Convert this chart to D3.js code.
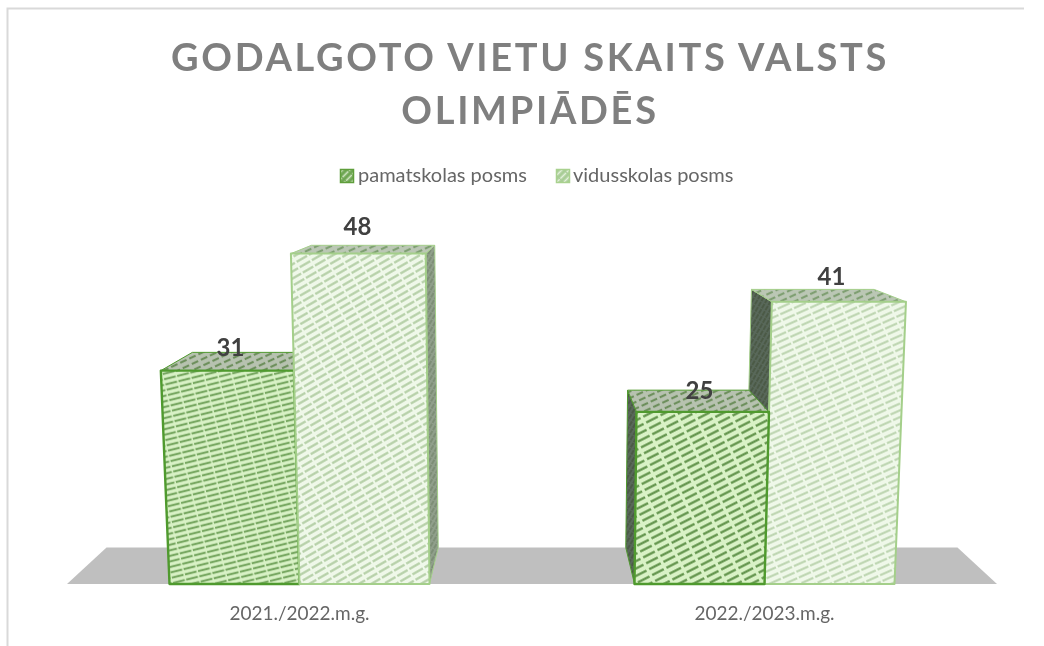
<!DOCTYPE html>
<html><head><meta charset="utf-8">
<script src="https://cdn.jsdelivr.net/npm/d3@7"></script>
<style>html,body{margin:0;padding:0;background:#fff}svg{display:block}text{font-family:Lato,"Open Sans",sans-serif}</style>
</head><body><svg id="c" width="1044" height="646"></svg>
<script>
const titleLines = ["GODALGOTO VIETU SKAITS VALSTS", "OLIMPIĀDĒS"];
const categories = ["2021./2022.m.g.", "2022./2023.m.g."];
const seriesNames = ["pamatskolas posms", "vidusskolas posms"];
const pamatskolas = [31, 25];
const vidusskolas = [48, 41];

const W = 1044, H = 646;
const svg = d3.select("#c");
const defs = svg.append("defs");
defs.append("filter").attr("id", "soft").attr("x", "-5%").attr("y", "-5%").attr("width", "110%").attr("height", "110%")
  .append("feGaussianBlur").attr("stdDeviation", 0.7);
defs.append("filter").attr("id", "softText").attr("x", "-5%").attr("y", "-5%").attr("width", "110%").attr("height", "110%")
  .append("feGaussianBlur").attr("stdDeviation", 0.35);

const x0 = d3.scaleBand().domain(categories).range([67, 997]);
const x1 = d3.scaleBand().domain(seriesNames)
  .range([x0.bandwidth()/2 - 130, x0.bandwidth()/2 + 130]);
const y = d3.scaleLinear().domain([0, 60]).range([584, 171]);

// perspective: vertical edges lean towards the centre, depth runs to a vanishing point
const vp = {x: 532, y: 156}, depthRatio = 0.915, lean = 0.000112;
function project(x, v, d) {
  const py = y(v);
  const px = vp.x + (x - vp.x) * (1 + lean * (y(0) - py));
  return d ? [vp.x + (px - vp.x) * depthRatio, vp.y + (py - vp.y) * depthRatio] : [px, py];
}

function pattern(id, bg, fg, angle, period, sw, dash) {
  const p = defs.append("pattern").attr("id", id).attr("patternUnits", "userSpaceOnUse")
    .attr("width", dash[0] + dash[1]).attr("height", period)
    .attr("patternTransform", `rotate(${angle})`);
  p.append("rect").attr("width", dash[0] + dash[1]).attr("height", period).attr("fill", bg);
  p.append("line").attr("x1", 0).attr("x2", dash[0] + dash[1]).attr("y1", period/2).attr("y2", period/2)
    .attr("stroke", fg).attr("stroke-width", sw).attr("stroke-dasharray", dash.join(" "));
}
pattern("f0a", "#d9f2c6", "#78a862", -14, 5.4, 2.2, [12, 1.5]);
pattern("f0b", "#d9f2c6", "#5c8f46", -27, 6.6, 2.2, [13, 3]);
pattern("f1a", "#eff8e9", "#b4cfa6", -30, 6.2, 2.2, [12, 2]);
pattern("f1b", "#eff8e9", "#bad3ad", -24, 6.2, 2.0, [13, 2]);
pattern("t0", "#b7c2b0", "#6d8f5c", -25, 6, 2.2, [7, 3]);
pattern("t1", "#bbc7b5", "#7f9f72", -25, 6, 2.2, [7, 3]);
pattern("sideDark", "#59685a", "#47553f", -60, 4, 1.5, [5, 1]);
pattern("sideLight", "#909f8b", "#76886f", -60, 4, 1.5, [5, 1]);
pattern("lg0", "#6ea653", "#d4e8c6", -45, 5, 1.6, [8, 1]);
pattern("lg1", "#a8cd96", "#e4f0dc", -45, 5, 1.6, [8, 1]);

// outer frame
svg.append("path").attr("d", `M7.5 ${H}V8.5H1024`).attr("fill", "none").attr("stroke", "#d9d9d9").attr("stroke-width", 2);

// title
svg.append("g").attr("filter", "url(#softText)").selectAll("text").data(titleLines).join("text")
  .attr("x", 530).attr("y", (d, i) => 71 + i * 53)
  .attr("text-anchor", "middle").attr("font-size", 38).attr("font-weight", 700)
  .attr("letter-spacing", 2.7).attr("fill", "#7f7f7f").text(d => d);

// legend
const legendX = [340, 556], legendTextX = [358, 573];
const lg = svg.append("g").attr("filter", "url(#softText)").selectAll("g").data(seriesNames).join("g");
lg.append("rect").attr("x", (d, i) => legendX[i] + .5).attr("y", 169.5).attr("width", 13).attr("height", 13)
  .attr("fill", (d, i) => `url(#lg${i})`).attr("stroke", (d, i) => i ? "#a9d18e" : "#5f9e3a").attr("stroke-width", 1.5);
lg.append("text").attr("x", (d, i) => legendTextX[i]).attr("y", 182).attr("font-size", 20)
  .attr("fill", "#666").text(d => d);

// floor
const [xl, xr] = x0.range();
svg.append("polygon").attr("fill", "#bfbfbf")
  .attr("points", [project(xl,0,0), project(xr,0,0), project(xr,0,1), project(xl,0,1)].join(" "));

// bars, painted from outermost to innermost
const bars = [];
categories.forEach((c, i) => {
  bars.push({c, i, s: 0, name: seriesNames[0], v: pamatskolas[i]});
  bars.push({c, i, s: 1, name: seriesNames[1], v: vidusskolas[i]});
});
bars.forEach(b => { b.x = x0(b.c) + x1(b.name); b.w = x1.bandwidth(); });
bars.sort((a, b) => Math.abs(b.x + b.w/2 - vp.x) - Math.abs(a.x + a.w/2 - vp.x));

const poly = (g, pts, fill, stroke, sw) => g.append("polygon").attr("points", pts.join(" "))
  .attr("fill", fill).attr("stroke", stroke).attr("stroke-width", sw).attr("stroke-linejoin", "round");

const plot = svg.append("g").attr("filter", "url(#soft)");
bars.forEach(b => {
  const g = plot.append("g");
  const stroke = b.s ? "#a4cf8a" : "#4f9a2e", sw = b.s ? 2 : 2.4;
  const leftOfCentre = b.x + b.w/2 < vp.x;
  const edge = leftOfCentre ? b.x + b.w : b.x;
  poly(g, [project(edge,0,0), project(edge,b.v,0), project(edge,b.v,1), project(edge,0,1)],
       leftOfCentre ? "url(#sideLight)" : "url(#sideDark)", stroke, 1);
  poly(g, [project(b.x,b.v,0), project(b.x+b.w,b.v,0), project(b.x+b.w,b.v,1), project(b.x,b.v,1)],
       `url(#t${b.s})`, stroke, 1);
  const front = "f" + b.s + (b.i ? "b" : "a");
  poly(g, [project(b.x,0,0), project(b.x+b.w,0,0), project(b.x+b.w,b.v,0), project(b.x,b.v,0)],
       `url(#${front})`, stroke, sw);
});

// value labels
const labels = [
  {c: 0, s: 0, v: pamatskolas[0], dx: -4, dy: -15},
  {c: 0, s: 1, v: vidusskolas[0], dx: -7, dy: -19},
  {c: 1, s: 0, v: pamatskolas[1], dx: 0, dy: -13},
  {c: 1, s: 1, v: vidusskolas[1], dx: 2, dy: -17}
];
svg.append("g").attr("filter", "url(#softText)").selectAll("text").data(labels).join("text")
  .attr("x", d => x0(categories[d.c]) + x1(seriesNames[d.s]) + x1.bandwidth()/2 + d.dx)
  .attr("y", d => y(d.v) + d.dy)
  .attr("text-anchor", "middle").attr("font-size", 24).attr("font-weight", 700)
  .attr("fill", "#404040").text(d => d.v);

// category axis
svg.append("g").attr("filter", "url(#softText)").selectAll("text").data(categories).join("text")
  .attr("x", d => x0(d) + x0.bandwidth()/2).attr("y", 620)
  .attr("text-anchor", "middle").attr("font-size", 19).attr("fill", "#666").text(d => d);
</script></body></html>
